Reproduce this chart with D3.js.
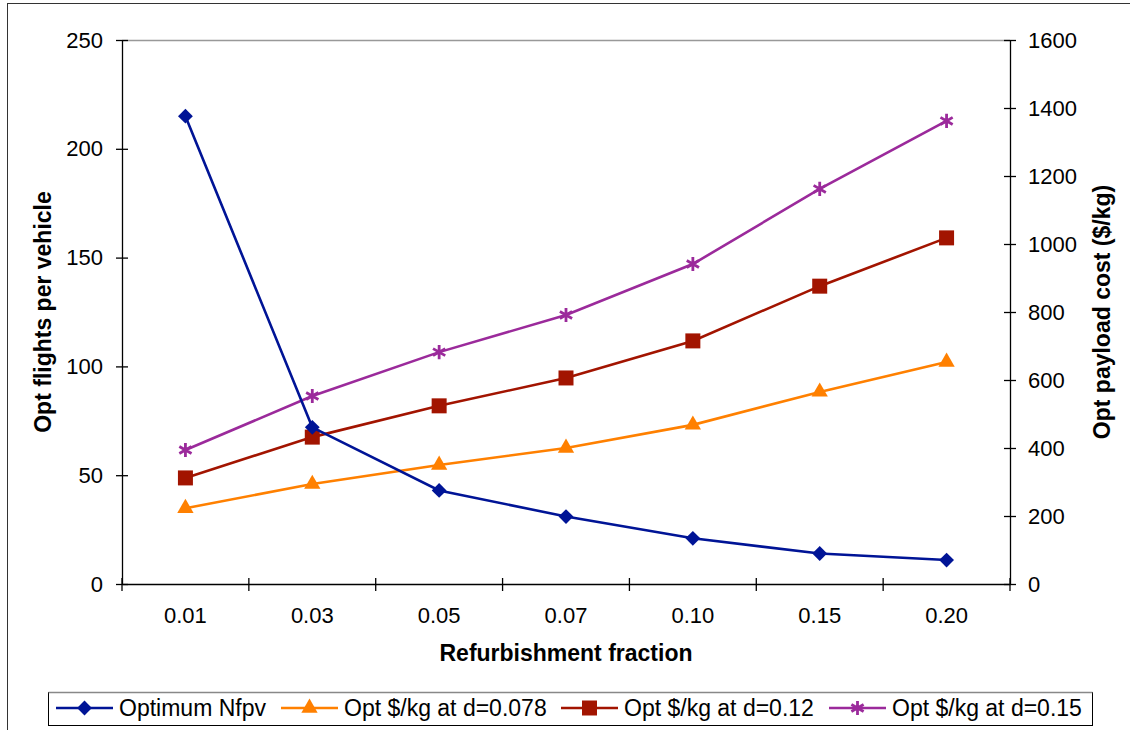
<!DOCTYPE html>
<html><head><meta charset="utf-8">
<script src="https://cdn.jsdelivr.net/npm/d3@7"></script>
<style>body{margin:0;background:#fff}svg{display:block}text{font-family:"Liberation Sans",Arial,sans-serif}</style>
</head><body>
<svg id="c" width="1130" height="730"></svg>
<script>
const categories = ["0.01","0.03","0.05","0.07","0.10","0.15","0.20"];
const nfpv = [215, 72, 43, 31, 21, 14, 11];
const costD078 = [223, 294, 350, 400, 468, 565, 653];
const costD012 = [312, 432, 524, 606, 715, 876, 1018];
const costD015 = [394, 553, 682, 791, 941, 1162, 1362];
const leftTicks = [0, 50, 100, 150, 200, 250];
const rightTicks = [0, 200, 400, 600, 800, 1000, 1200, 1400, 1600];
const seriesNames = ["Optimum Nfpv", "Opt $/kg at d=0.078", "Opt $/kg at d=0.12", "Opt $/kg at d=0.15"];

const svg = d3.select("#c");
const L = 122, R = 1010, T = 40, B = 584;
const FONT = "Liberation Sans, Arial, sans-serif";

svg.append("rect").attr("x",7.5).attr("y",3.5).attr("width",1140).attr("height",740)
  .attr("fill","#fff").attr("stroke","#333").attr("stroke-width",1);

const x = d3.scaleBand().domain(categories).range([L, R]);
const yL = d3.scaleLinear().domain([0,250]).range([B, T]);
const yR = d3.scaleLinear().domain([0,1600]).range([B, T]);

// top border of plot area
svg.append("line").attr("x1",L).attr("x2",R).attr("y1",T+0.5).attr("y2",T+0.5).attr("stroke","#999").attr("stroke-width",1.5);

function styleAxis(g){
  g.attr("font-size",22).attr("font-family",FONT);
  g.selectAll(".domain").attr("stroke","#000").attr("stroke-width",1.3);
  g.selectAll(".tick line").attr("stroke","#000").attr("stroke-width",1.3);
  g.selectAll(".tick text").attr("font-size",22).attr("fill","#000").attr("font-family",FONT);
}

const gL = svg.append("g").attr("transform",`translate(${L},0)`)
  .call(d3.axisLeft(yL).tickValues(leftTicks).tickSize(6).tickPadding(13).tickSizeOuter(0));
gL.selectAll(".tick line").attr("x1",6);
styleAxis(gL);

const gR = svg.append("g").attr("transform",`translate(${R},0)`)
  .call(d3.axisRight(yR).tickValues(rightTicks).tickFormat(d3.format("d")).tickSize(6).tickPadding(12).tickSizeOuter(0));
gR.selectAll(".tick line").attr("x1",-6);
styleAxis(gR);

// x axis with ticks between categories
const gX = svg.append("g").attr("transform",`translate(0,${B})`)
  .call(d3.axisBottom(x).tickSize(0).tickPadding(23).tickSizeOuter(0));
styleAxis(gX);
const bounds = categories.map(c => x(c)).concat([R]);
gX.selectAll(".sep").data(bounds).enter().append("line")
  .attr("x1",d=>d).attr("x2",d=>d).attr("y1",-6).attr("y2",7).attr("stroke","#000").attr("stroke-width",1.3);

const cx = c => x(c) + x.bandwidth()/2;

// axis titles
svg.append("text").attr("x",(L+R)/2).attr("y",661).attr("text-anchor","middle")
  .attr("font-size",23).attr("font-weight","bold").text("Refurbishment fraction");
svg.append("text").attr("transform",`translate(51,${(T+B)/2}) rotate(-90)`).attr("text-anchor","middle")
  .attr("font-size",23).attr("font-weight","bold").text("Opt flights per vehicle");
svg.append("text").attr("transform",`translate(1110,${(T+B)/2}) rotate(-90)`).attr("text-anchor","middle")
  .attr("font-size",23).attr("font-weight","bold").text("Opt payload cost ($/kg)");

const colors = ["#001496", "#ff8000", "#a21400", "#9b2a9b"];

function drawSym(g, i, px, py, scale){
  const k = scale || 1;
  let p;
  if (i === 0) {
    p = g.append("path").attr("transform",`translate(${px},${py}) rotate(45)`)
      .attr("d", d3.symbol().type(d3.symbolSquare).size(110*k)());
  } else if (i === 1) {
    p = g.append("path").attr("transform",`translate(${px},${py})`)
      .attr("d", d3.symbol().type(d3.symbolTriangle).size(115*k)());
  } else if (i === 2) {
    p = g.append("path").attr("transform",`translate(${px},${py})`)
      .attr("d", d3.symbol().type(d3.symbolSquare).size(225*k)());
  } else {
    p = g.append("path").attr("transform",`translate(${px},${py})`)
      .attr("d", d3.symbol().type(d3.symbolAsterisk).size(140*k)());
  }
  if (i === 3) p.attr("fill","none").attr("stroke",colors[i]).attr("stroke-width",2.8);
  else p.attr("fill",colors[i]);
}

const series = [
  {vals: nfpv, y: yL},
  {vals: costD078, y: yR},
  {vals: costD012, y: yR},
  {vals: costD015, y: yR}
];

// draw in order so that Nfpv is on top
[1,2,3,0].forEach(i => {
  const s = series[i];
  const line = d3.line().x((d,j)=>cx(categories[j])).y(d=>s.y(d));
  svg.append("path").datum(s.vals).attr("d",line).attr("fill","none")
    .attr("stroke",colors[i]).attr("stroke-width",2.6);
  const g = svg.append("g");
  s.vals.forEach((v,j)=> drawSym(g, i, cx(categories[j]), s.y(v)));
});

// legend
const lg = svg.append("g");
lg.append("rect").attr("x",48.5).attr("y",692.5).attr("width",1044).attr("height",33)
  .attr("fill","#fff").attr("stroke","#000").attr("stroke-width",1);
lg.append("line").attr("x1",48.5).attr("x2",1092.5).attr("y1",692.5).attr("y2",692.5).attr("stroke","#888").attr("stroke-width",1.5);
const lx = [56, 281, 561, 829];
seriesNames.forEach((n,i)=>{
  const y0 = 708;
  lg.append("line").attr("x1",lx[i]).attr("x2",lx[i]+57).attr("y1",y0).attr("y2",y0)
    .attr("stroke",colors[i]).attr("stroke-width",2.6);
  drawSym(lg, i, lx[i]+28.5, y0);
  lg.append("text").attr("x",lx[i]+63).attr("y",716).attr("font-size",23).attr("fill","#000").text(n);
});
</script>
</body></html>
